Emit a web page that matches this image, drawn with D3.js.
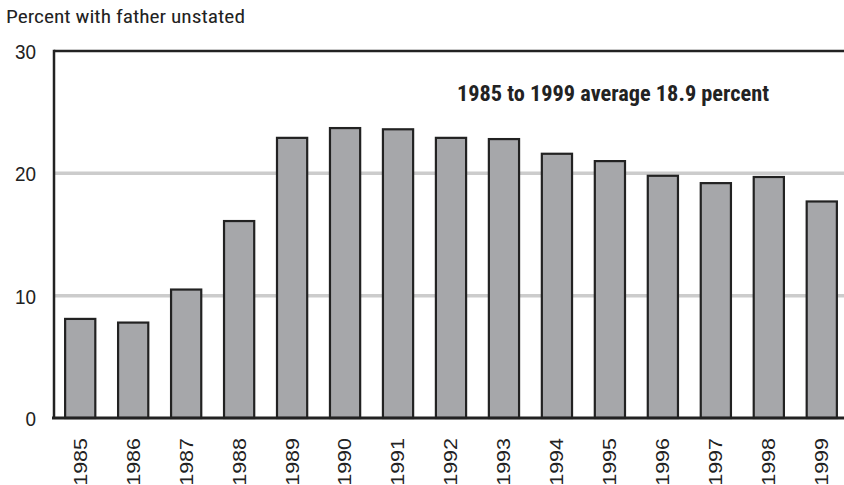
<!DOCTYPE html>
<html><head><meta charset="utf-8">
<script src="https://cdn.jsdelivr.net/npm/d3@7"></script>
<style>
html,body{margin:0;padding:0;background:#fff;}
svg{display:block;}
</style></head>
<body>
<script>
const years = ["1985","1986","1987","1988","1989","1990","1991","1992","1993","1994","1995","1996","1997","1998","1999"];
const values = [8.1, 7.8, 10.5, 16.1, 22.9, 23.7, 23.6, 22.9, 22.8, 21.6, 21.0, 19.8, 19.2, 19.7, 17.7];
const yTicks = [0, 10, 20, 30];
const gridTicks = [10, 20];
const titleText = "Percent with father unstated";
const noteText = "1985 to 1999 average 18.9 percent";

const W = 844, H = 485;
const plotLeft = 54, plotTop = 51, plotBottom = 418;

const svg = d3.select("body").append("svg").attr("width", W).attr("height", H);

const x = d3.scaleBand().domain(years).range([plotLeft, 848]).paddingInner(0.43).paddingOuter(0.21);
const y = d3.scaleLinear().domain([0, 30]).range([plotBottom, plotTop]);

const condensed = "'Liberation Sans Narrow','Arial Narrow','Roboto Condensed',Arial,sans-serif";
const regular = "'Liberation Sans',Arial,Helvetica,sans-serif";

// title
svg.append("text").attr("x", 6).attr("y", 23)
  .attr("font-family", condensed).attr("font-size", 18.5).attr("fill", "#222")
  .attr("textLength", 239).attr("lengthAdjust", "spacingAndGlyphs")
  .text(titleText);

// gridlines
svg.append("g").selectAll("line").data(gridTicks).join("line")
  .attr("x1", plotLeft).attr("x2", W).attr("y1", d => y(d)).attr("y2", d => y(d))
  .attr("stroke", "#cccccc").attr("stroke-width", 3.5);

// y axis tick labels
const yAxis = d3.axisLeft(y).tickValues(yTicks).tickSize(0).tickPadding(0).tickFormat(d3.format("d"));
const gy = svg.append("g").attr("transform", `translate(${plotLeft},0)`).call(yAxis);
gy.select(".domain").remove();
gy.selectAll("text").attr("font-family", regular).attr("font-size", 21).attr("fill", "#222")
  .attr("x", -20).attr("dy", "0.36em").attr("transform", "scale(0.9,1)");

// bars
svg.append("g").selectAll("rect").data(values).join("rect")
  .attr("x", (d, i) => x(years[i]))
  .attr("width", x.bandwidth())
  .attr("y", d => y(d))
  .attr("height", d => y(0) - y(d))
  .attr("fill", "#a6a7aa").attr("stroke", "#222").attr("stroke-width", 2.2);

// frame lines
svg.append("line").attr("x1", plotLeft).attr("x2", W).attr("y1", plotTop).attr("y2", plotTop)
  .attr("stroke", "#222").attr("stroke-width", 2.5);
svg.append("line").attr("x1", plotLeft).attr("x2", plotLeft).attr("y1", plotTop - 1.2).attr("y2", plotBottom)
  .attr("stroke", "#222").attr("stroke-width", 2.5);

// x axis
const xAxis = d3.axisBottom(x).tickSize(0).tickPadding(0);
const gx = svg.append("g").attr("transform", `translate(0,${plotBottom})`).call(xAxis);
gx.select(".domain").attr("stroke", "#222").attr("stroke-width", 3).attr("d", `M${plotLeft - 2},0H${W}`);
gx.selectAll("text")
  .attr("font-family", regular).attr("font-size", 21.5).attr("fill", "#222")
  .attr("text-anchor", "end")
  .attr("transform", "rotate(-90) scale(1,0.83)")
  .attr("x", -20).attr("y", 0).attr("dy", "0.36em");

// annotation
svg.append("text").attr("x", 457).attr("y", 101)
  .attr("font-family", condensed).attr("font-weight", "bold").attr("font-size", 22).attr("fill", "#222")
  .attr("textLength", 312).attr("lengthAdjust", "spacingAndGlyphs")
  .text(noteText);
</script>
</body></html>
